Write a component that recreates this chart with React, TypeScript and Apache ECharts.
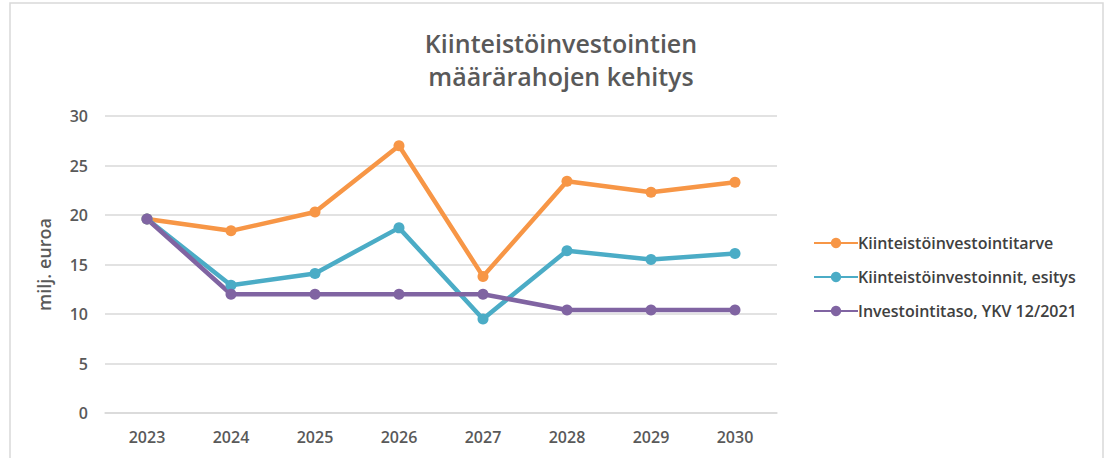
import React, { useEffect, useRef } from "react";
import * as echarts from "echarts";

const years = ["2023", "2024", "2025", "2026", "2027", "2028", "2029", "2030"];
const tarve = [19.6, 18.4, 20.3, 27.0, 13.8, 23.4, 22.3, 23.3];
const esitys = [19.6, 12.9, 14.1, 18.7, 9.5, 16.4, 15.5, 16.1];
const taso = [19.6, 12.0, 12.0, 12.0, 12.0, 10.4, 10.4, 10.4];
const seriesNames = [
  "Kiinteistöinvestointitarve",
  "Kiinteistöinvestoinnit, esitys",
  "Investointitaso, YKV 12/2021",
];
const colors = ["#F79646", "#4BACC6", "#8064A2"];

export default function App() {
  const ref = useRef<HTMLDivElement>(null);
  useEffect(() => {
    if (!ref.current) return;
    const chart = echarts.init(ref.current, null, { renderer: "svg" });
    const font = "'Open Sans', 'Noto Sans', sans-serif";
    const mk = (name: string, data: number[], color: string) => ({
      name,
      type: "line",
      data,
      symbol: "circle",
      symbolSize: 11,
      lineStyle: { width: 4.5, color },
      itemStyle: { color },
    });
    chart.setOption({
      animation: false,
      backgroundColor: "#ffffff",
      title: {
        text: "Kiinteistöinvestointien\nmäärärahojen kehitys",
        left: 556,
        textAlign: "center",
        top: 21,
        textStyle: {
          fontFamily: font,
          fontSize: 25,
          fontWeight: 600,
          color: "#595959",
          lineHeight: 33,
        },
      },
      graphic: [
        {
          type: "rect",
          shape: { x: 10, y: 3, width: 1093, height: 470 },
          style: { fill: "none", stroke: "#d9d9d9", lineWidth: 1.5 },
          silent: true,
        },
      ],
      legend: {
        orient: "vertical",
        left: 808,
        top: 230,
        itemGap: 18,
        itemWidth: 44,
        itemHeight: 13,
        data: seriesNames,
        textStyle: {
          fontFamily: font,
          fontSize: 16,
          fontWeight: 600,
          color: "#404040",
          padding: [0, 0, 0, -5],
        },
      },
      grid: { left: 105, right: 334, top: 116, bottom: 45 },
      xAxis: {
        type: "category",
        data: years,
        boundaryGap: true,
        axisLine: { lineStyle: { color: "#d9d9d9", width: 1.5 } },
        axisTick: { show: false },
        axisLabel: {
          fontFamily: font,
          fontSize: 16,
          fontWeight: 600,
          color: "#595959",
          margin: 16,
        },
      },
      yAxis: {
        type: "value",
        min: 0,
        max: 30,
        interval: 5,
        name: "milj. euroa",
        nameLocation: "middle",
        nameGap: 52,
        nameRotate: 90,
        nameTextStyle: {
          fontFamily: font,
          fontSize: 18,
          fontWeight: 600,
          color: "#595959",
        },
        axisLine: { show: false },
        axisTick: { show: false },
        splitLine: { lineStyle: { color: "#d9d9d9", width: 1.5 } },
        axisLabel: {
          fontFamily: font,
          fontSize: 16,
          fontWeight: 600,
          color: "#595959",
          margin: 17,
        },
      },
      series: [
        mk(seriesNames[0], tarve, colors[0]),
        mk(seriesNames[1], esitys, colors[1]),
        mk(seriesNames[2], taso, colors[2]),
      ],
    });
    return () => chart.dispose();
  }, []);
  return (
    <div
      ref={ref}
      style={{ position: "fixed", left: 0, top: 0, width: 1111, height: 458 }}
    />
  );
}
